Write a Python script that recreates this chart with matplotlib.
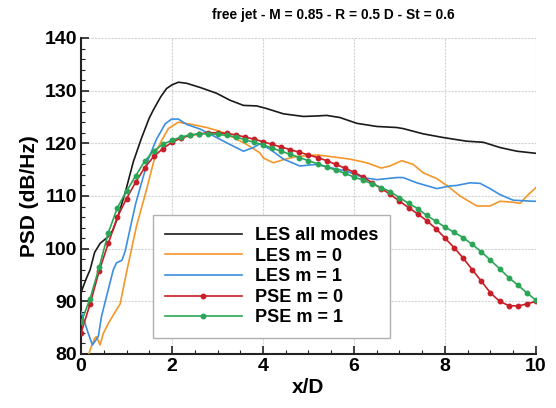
import numpy as np
import matplotlib
matplotlib.use("Agg")
import matplotlib.pyplot as plt
from matplotlib.ticker import MultipleLocator

plt.rcParams['font.family'] = ['Liberation Sans', 'DejaVu Sans']
plt.rcParams['font.weight'] = 'bold'

title = "free jet - M = 0.85 - R = 0.5 D - St = 0.6"

# LES all modes
les_all_x = [0, 0.12, 0.2, 0.3, 0.42, 0.6, 0.7, 0.8, 0.97, 1.15, 1.33, 1.5, 1.6, 1.75, 1.88, 2.0,
             2.14, 2.32, 2.62, 2.98, 3.27, 3.57, 3.86, 4.08, 4.45, 4.89, 5.2, 5.4, 5.69, 6.06,
             6.5, 6.94, 7.08, 7.52, 7.96, 8.48, 8.84, 9.21, 9.58, 10.0]
les_all_y = [91.7, 94.4, 96.0, 99.3, 101.0, 102.3, 103.5, 105.8, 110.6, 116.5, 121.0, 124.8, 126.5,
             128.8, 130.4, 131.1, 131.6, 131.4, 130.6, 129.5, 128.2, 127.2, 127.1, 126.6, 125.6,
             125.1, 125.2, 125.3, 124.9, 123.8, 123.2, 123.0, 122.8, 121.8, 121.1, 120.4, 120.2,
             119.2, 118.5, 118.1]

# LES m = 0
les_m0_x = [0.14, 0.2, 0.3, 0.34, 0.42, 0.49, 0.6, 0.78, 0.86, 0.93, 1.0, 1.1, 1.22, 1.3, 1.44,
            1.59, 1.66, 1.77, 1.92, 2.14, 2.43, 2.76, 3.05, 3.35, 3.64, 3.93, 4.01, 4.23, 4.45,
            4.74, 5.18, 5.47, 5.91, 6.28, 6.6, 6.79, 7.05, 7.3, 7.52, 7.82, 8.07, 8.33, 8.7,
            8.99, 9.21, 9.5, 9.65, 9.8, 10.0]
les_m0_y = [79.0, 80.8, 83.0, 83.3, 81.7, 83.9, 85.8, 88.4, 89.5, 92.5, 95.5, 99.5, 104.3, 106.8,
            111.2, 116.3, 118.5, 120.5, 122.8, 124.0, 123.6, 123.0, 122.3, 121.1, 119.8, 118.2,
            117.2, 116.3, 116.9, 117.5, 117.8, 117.5, 117.0, 116.3, 115.3, 115.7, 116.7, 116.0,
            114.4, 113.3, 111.8, 110.0, 108.1, 108.1, 109.0, 108.8, 108.6, 110.0, 111.6]

# LES m = 1
les_m1_x = [0, 0.08, 0.16, 0.25, 0.38, 0.45, 0.56, 0.71, 0.78, 0.9, 0.97, 1.11, 1.2, 1.33, 1.48,
            1.55, 1.66, 1.74, 1.85, 1.99, 2.14, 2.32, 2.62, 2.98, 3.27, 3.57, 3.79, 3.93, 4.15,
            4.45, 4.81, 5.18, 5.47, 5.84, 6.2, 6.5, 6.94, 7.08, 7.38, 7.82, 8.11, 8.26, 8.55,
            8.77, 8.99, 9.2, 9.36, 9.5, 9.94, 10.0]
les_m1_y = [88.0, 86.0, 83.9, 81.7, 83.3, 87.1, 90.9, 96.0, 97.3, 97.8, 99.5, 105.0, 108.5, 112.5,
            117.0, 118.5, 120.8, 122.0, 123.7, 124.6, 124.6, 123.6, 122.7, 121.1, 119.8, 118.5,
            119.2, 119.9, 118.9, 117.0, 115.7, 116.0, 115.4, 114.7, 113.5, 113.1, 113.5, 113.5,
            112.5, 111.4, 111.9, 112.0, 112.5, 112.4, 111.4, 110.3, 109.7, 109.2, 109.0, 109.0]

# PSE (points every 0.2 in x/D)
pse_x = [round(0.2 * i, 1) for i in range(51)]
pse_m0_y = [84.0, 89.5, 95.8, 101.0, 106.0, 109.5, 112.6, 115.4, 117.5, 119.0, 120.2, 121.0,
            121.5, 121.8, 122.0, 122.0, 121.9, 121.6, 121.2, 120.8, 120.3, 119.8, 119.3, 118.8,
            118.3, 117.8, 117.3, 116.7, 116.0, 115.3, 114.5, 113.6, 112.5, 111.4, 110.3, 109.0,
            107.8, 106.6, 105.3, 103.8, 102.0, 100.2, 98.2, 96.0, 93.8, 91.6, 90.0, 89.2, 89.1,
            89.5, 90.0]
pse_m1_y = [86.0, 90.5, 96.5, 103.0, 107.8, 110.9, 113.8, 116.6, 118.6, 119.8, 120.6, 121.2,
            121.6, 121.8, 121.8, 121.7, 121.5, 121.2, 120.7, 120.2, 119.7, 119.1, 118.5, 117.9,
            117.3, 116.7, 116.1, 115.5, 114.9, 114.3, 113.6, 113.0, 112.3, 111.6, 110.8, 109.7,
            108.6, 107.6, 106.3, 105.2, 104.1, 103.1, 102.1, 100.8, 99.4, 97.8, 96.2, 94.5, 93.1,
            91.6, 90.2]

labels = ["LES all modes", "LES m = 0", "LES m = 1", "PSE m = 0", "PSE m = 1"]
colors = ["#1a1a1a", "#f5962a", "#3b8ee0", "#c81e28", "#2aa656"]

fig = plt.figure(figsize=(5.56, 4.08), dpi=100)
ax = fig.add_axes([0.1457, 0.1324, 0.8183, 0.7745])

ax.plot(les_all_x, les_all_y, color=colors[0], lw=1.2, label=labels[0], zorder=3)
ax.plot(les_m0_x, les_m0_y, color=colors[1], lw=1.2, label=labels[1], zorder=3)
ax.plot(les_m1_x, les_m1_y, color=colors[2], lw=1.2, label=labels[2], zorder=3)
ax.plot(pse_x, pse_m0_y, color=colors[3], lw=1.2, marker='o', ms=3.2, label=labels[3], zorder=4)
ax.plot(pse_x, pse_m1_y, color=colors[4], lw=1.2, marker='o', ms=3.2, label=labels[4], zorder=4)

ax.set_xlim(0, 10)
ax.set_ylim(80, 140)
ax.xaxis.set_major_locator(MultipleLocator(2))
ax.xaxis.set_minor_locator(MultipleLocator(0.5))
ax.yaxis.set_major_locator(MultipleLocator(10))
ax.yaxis.set_minor_locator(MultipleLocator(2))
ax.tick_params(which='both', direction='in', top=False, right=False, width=1.2, color='#222222')
ax.tick_params(which='major', length=6, labelsize=14, pad=3)
ax.tick_params(which='minor', length=3, width=0.8)
for lab in ax.get_xticklabels() + ax.get_yticklabels():
    lab.set_fontweight('bold')

ax.grid(True, which='major', color='#d4d4d4', lw=0.8, linestyle=(0, (2, 1)))
ax.set_axisbelow(True)
for s in ['top', 'right']:
    ax.spines[s].set_visible(False)
for s in ['left', 'bottom']:
    ax.spines[s].set_linewidth(1.5)
    ax.spines[s].set_color('#222222')

ax.set_xlabel("x/D", fontsize=15, fontweight='bold', labelpad=2)
ax.set_ylabel("PSD (dB/Hz)", fontsize=15, fontweight='bold', labelpad=4)
fig.text(0.60, 0.963, title, fontsize=9.9, fontweight='bold', ha='center', va='center')

leg = ax.legend(loc='lower left', bbox_to_anchor=(0.158, 0.05), borderaxespad=0, fontsize=13,
                handlelength=4.3, labelspacing=0.2, borderpad=0.65, handletextpad=0.7,
                frameon=True, fancybox=False, edgecolor='#b0b0b0', framealpha=1)
leg.get_frame().set_linewidth(1.0)
for t in leg.get_texts():
    t.set_fontweight('bold')

fig.savefig("out.png", dpi=100)
